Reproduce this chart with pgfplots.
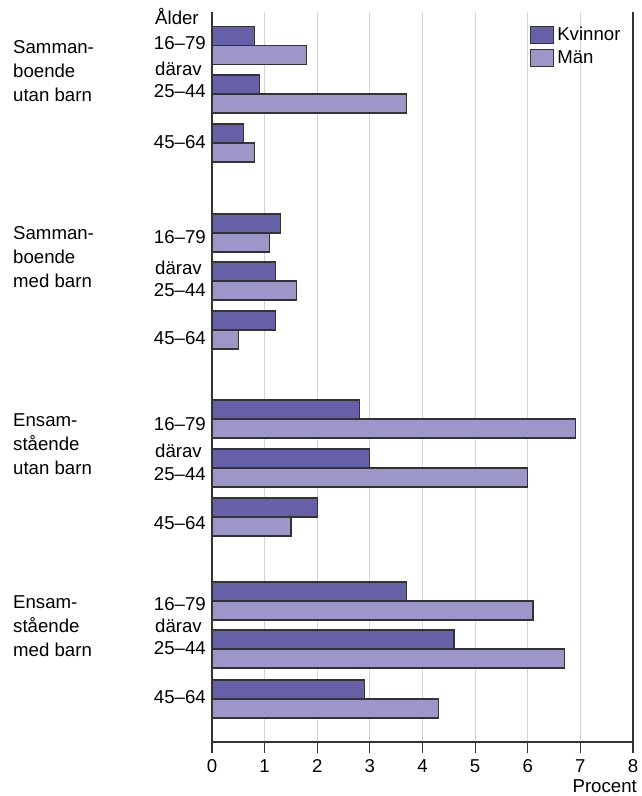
\documentclass[border=0pt]{standalone}
\usepackage{fontspec}
\setmainfont{Liberation Sans}
\usepackage{pgfplots}
\pgfplotsset{compat=1.18}

\definecolor{kv}{HTML}{6560A8}
\definecolor{man}{HTML}{9D97C9}
\definecolor{edge}{HTML}{333333}
\definecolor{gridc}{HTML}{D4D4D4}

\newcommand{\lbl}{\fontsize{18.7}{24}\selectfont}
\tikzset{
    age/.style={font=\lbl, inner sep=0pt, anchor=east, xshift=-6bp},
    pre/.style={font=\lbl, inner sep=0pt, anchor=west, xshift=-57bp},
    grp/.style={font=\lbl, inner sep=0pt, anchor=west, align=left, xshift=-199bp},
}

\begin{document}
\begin{tikzpicture}[x=1bp,y=1bp]
\path[use as bounding box] (0,0) rectangle (642,796);
\begin{axis}[
    at={(212bp,54bp)}, anchor=south west,
    scale only axis, width=421bp, height=730bp,
    xmin=0, xmax=8, ymin=0, ymax=730,
    axis x line*=bottom, axis y line*=left,
    axis line style={-, edge, line width=1.2bp},
    xtick={0,1,...,8}, ytick=\empty,
    tick align=outside, major tick length=11bp,
    x tick style={edge, line width=1.2bp},
    xmajorgrids, grid style={gridc, line width=1bp},
    x tick label style={font=\lbl, yshift=-5bp, inner ysep=1bp},
    /pgf/number format/assume math mode=true,
    clip=false,
    legend style={draw=none, fill=none, at={(rel axis cs:0.748,0.984)},
        anchor=north west, font=\lbl, row sep=4.5bp,
        nodes={inner xsep=3bp, inner ysep=1bp}},
    legend cell align=left,
    legend image code/.code={\draw[#1, line width=1.2bp] (0bp,-8.5bp) rectangle (23bp,8.5bp);},
]
% Kvinnor
\addplot[xbar, bar shift=0pt, bar width=19, fill=kv, draw=edge, line width=1.2bp] coordinates {
    (0.8,706) (0.9,657.5) (0.6,608.5)
    (1.3,518.5) (1.2,470.5) (1.2,421.5)
    (2.8,332.5) (3.0,283.5) (2.0,234.5)
    (3.7,150.5) (4.6,102.5) (2.9,52.5)
};
\addlegendentry{Kvinnor}
% Män
\addplot[xbar, bar shift=0pt, bar width=19, fill=man, draw=edge, line width=1.2bp] coordinates {
    (1.8,687) (3.7,638.5) (0.8,589.5)
    (1.1,499.5) (1.6,451.5) (0.5,402.5)
    (6.9,313.5) (6.0,264.5) (1.5,215.5)
    (6.1,131.5) (6.7,83.5) (4.3,33.5)
};
\addlegendentry{Män}

\draw[edge, line width=1.2bp] (axis cs:8,0) -- (axis cs:8,730);
\node[anchor=north east, font=\lbl, inner sep=0pt] at (rel axis cs:1,0) [xshift=4bp, yshift=-37bp] {Procent};

% age labels
\node[pre] at (axis cs:0,726) {Ålder};
\node[age] at (axis cs:0,699) {16–79};
\node[age] at (axis cs:0,505) {16–79};
\node[age] at (axis cs:0,318) {16–79};
\node[age] at (axis cs:0,138) {16–79};
\node[pre] at (axis cs:0,673) {därav};
\node[pre] at (axis cs:0,474) {därav};
\node[pre] at (axis cs:0,291) {därav};
\node[pre] at (axis cs:0,116) {därav};
\node[age] at (axis cs:0,651) {25–44};
\node[age] at (axis cs:0,452) {25–44};
\node[age] at (axis cs:0,268) {25–44};
\node[age] at (axis cs:0,94) {25–44};
\node[age] at (axis cs:0,600) {45–64};
\node[age] at (axis cs:0,404) {45–64};
\node[age] at (axis cs:0,219) {45–64};
\node[age] at (axis cs:0,45) {45–64};

% group labels
\node[grp] at (axis cs:0,671) {Samman-\\boende\\utan barn};
\node[grp] at (axis cs:0,485) {Samman-\\boende\\med barn};
\node[grp] at (axis cs:0,298) {Ensam-\\stående\\utan barn};
\node[grp] at (axis cs:0,116) {Ensam-\\stående\\med barn};
\end{axis}
\end{tikzpicture}
\end{document}
